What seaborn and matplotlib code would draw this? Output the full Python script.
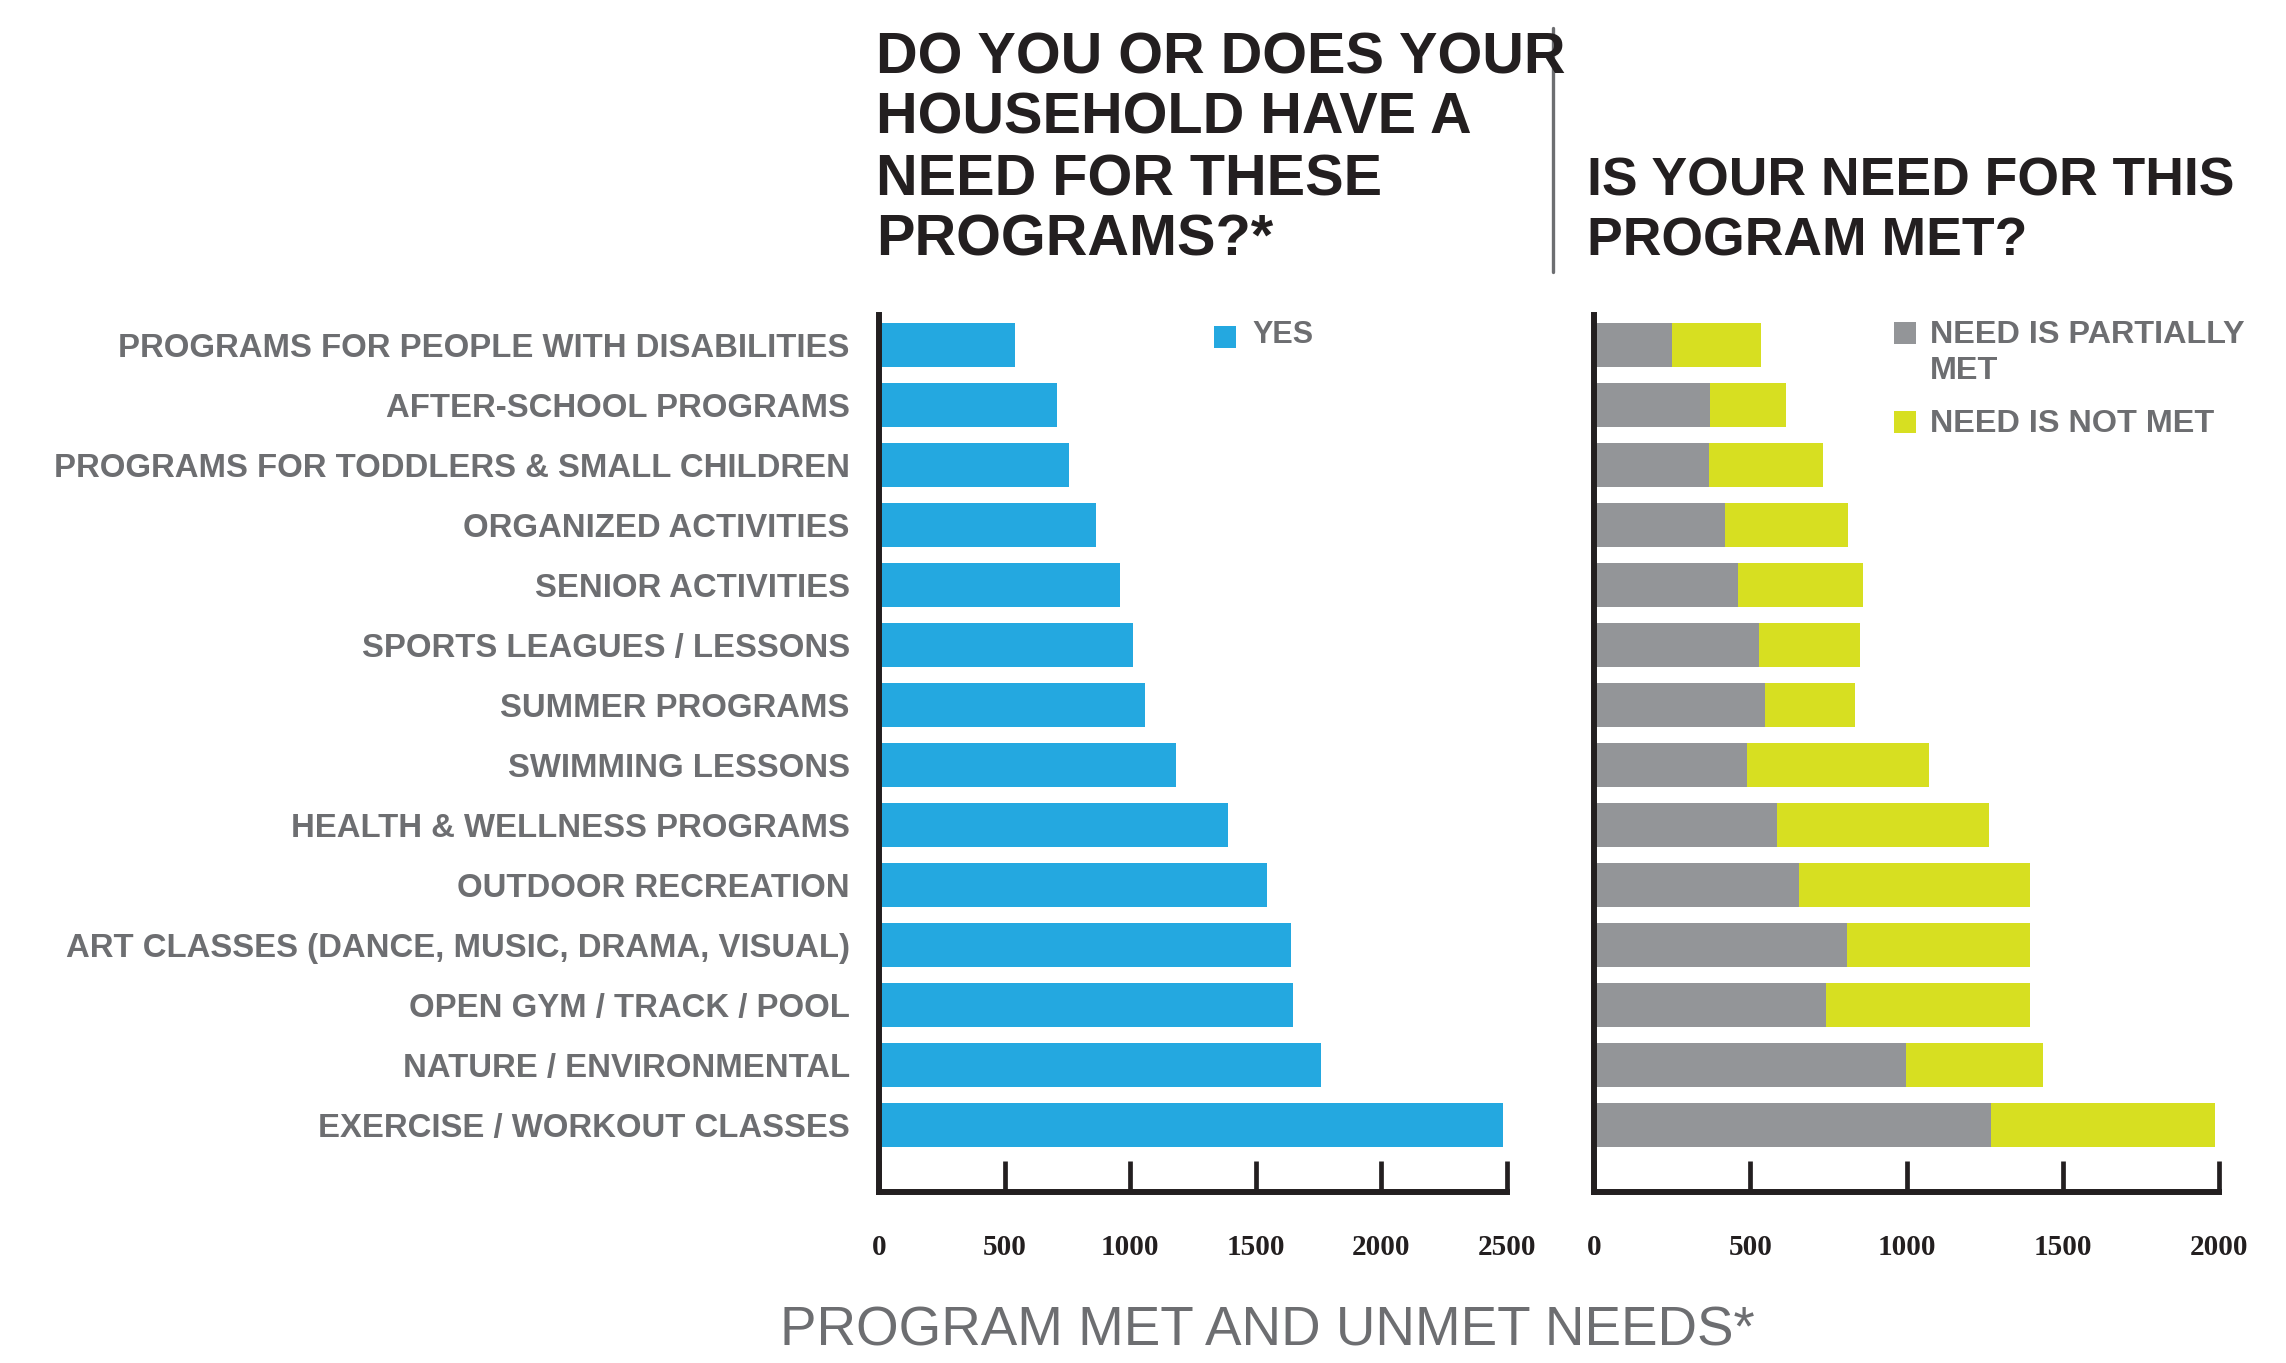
import matplotlib
matplotlib.use("Agg")
import matplotlib.pyplot as plt
from matplotlib import font_manager
from matplotlib.patches import Rectangle
from matplotlib.lines import Line2D
import seaborn as sns
import pandas as pd

# ---------------- data ----------------
categories = [
    "PROGRAMS FOR PEOPLE WITH DISABILITIES",
    "AFTER-SCHOOL PROGRAMS",
    "PROGRAMS FOR TODDLERS & SMALL CHILDREN",
    "ORGANIZED ACTIVITIES",
    "SENIOR ACTIVITIES",
    "SPORTS LEAGUES / LESSONS",
    "SUMMER PROGRAMS",
    "SWIMMING LESSONS",
    "HEALTH & WELLNESS PROGRAMS",
    "OUTDOOR RECREATION",
    "ART CLASSES (DANCE, MUSIC, DRAMA, VISUAL)",
    "OPEN GYM / TRACK / POOL",
    "NATURE / ENVIRONMENTAL",
    "EXERCISE / WORKOUT CLASSES",
]
yes_counts = [541, 708, 757, 865, 960, 1013, 1060, 1181, 1388, 1543, 1639, 1648, 1758, 2486]
partially_met = [251, 372, 369, 420, 461, 529, 548, 491, 584, 656, 810, 743, 997, 1269]
not_met = [284, 243, 364, 392, 399, 322, 287, 580, 679, 740, 586, 653, 441, 718]
left_ticks = [0, 500, 1000, 1500, 2000, 2500]
right_ticks = [0, 500, 1000, 1500, 2000]

title_left = ["DO YOU OR DOES YOUR", "HOUSEHOLD HAVE A", "NEED FOR THESE", "PROGRAMS?*"]
title_right = ["IS YOUR NEED FOR THIS", "PROGRAM MET?"]
legend_left = "YES"
legend_right = ["NEED IS PARTIALLY", "MET", "NEED IS NOT MET"]
bottom_title = "PROGRAM MET AND UNMET NEEDS*"

# ---------------- style ----------------
BLUE = "#24a8e0"
GRAY_BAR = "#939598"
YELLOW = "#d7df21"
GRAY_TEXT = "#6d6e71"
DARK = "#231f20"

sns.set_theme(style="white")
plt.rcParams["font.family"] = ["Liberation Sans", "DejaVu Sans"]


def has_font(name):
    try:
        font_manager.findfont(font_manager.FontProperties(family=name),
                              fallback_to_default=False)
        return True
    except Exception:
        return False


if has_font("Liberation Sans Narrow"):
    LABEL_FAMILY = ["Liberation Sans Narrow", "DejaVu Sans"]
    LABEL_SIZE = 28.5
else:
    LABEL_FAMILY = ["Liberation Sans", "DejaVu Sans"]
    LABEL_SIZE = 23.7
SANS = ["Liberation Sans", "DejaVu Sans"]
SERIF = ["Liberation Serif", "DejaVu Serif"]

W, H, DPI = 2286, 1363, 100
fig = plt.figure(figsize=(W / DPI, H / DPI), dpi=DPI)
fig.patch.set_facecolor("white")


def fx(px):
    return px / W


def fy(py):
    return 1 - py / H


AX_TOP, AX_BOT = 315, 1192
ax1 = fig.add_axes([fx(879), fy(AX_BOT), (1507 - 879) / W, (AX_BOT - AX_TOP) / H])
ax2 = fig.add_axes([fx(1594), fy(AX_BOT), (2219 - 1594) / W, (AX_BOT - AX_TOP) / H])

df = pd.DataFrame({
    "category": categories,
    "yes": yes_counts,
    "partial": partially_met,
    "not_met": not_met,
})
df["total"] = df["partial"] + df["not_met"]

BAR_W = 0.73
sns.barplot(data=df, y="category", x="yes", color=BLUE, saturation=1,
            width=BAR_W, errorbar=None, linewidth=0, ax=ax1)
sns.barplot(data=df, y="category", x="total", color=YELLOW, saturation=1,
            width=BAR_W, errorbar=None, linewidth=0, ax=ax2)
sns.barplot(data=df, y="category", x="partial", color=GRAY_BAR, saturation=1,
            width=BAR_W, errorbar=None, linewidth=0, ax=ax2)

for ax, ticks in ((ax1, left_ticks), (ax2, right_ticks)):
    ax.set_xlim(ticks[0], ticks[-1])
    ax.set_ylim(14.117, -0.5)
    ax.set_xlabel("")
    ax.set_ylabel("")
    ax.set_facecolor("none")
    for s in ("top", "right"):
        ax.spines[s].set_visible(False)
    for s in ("left", "bottom"):
        ax.spines[s].set_linewidth(4.3)
        ax.spines[s].set_color(DARK)
        ax.spines[s].set_capstyle("projecting")
        ax.spines[s].set_zorder(5)
    ax.set_xticks(ticks)
    ax.set_xticklabels([str(t) for t in ticks])
    ax.tick_params(axis="x", direction="in", length=22.3, width=3.4, color=DARK,
                   pad=30, labelsize=21, labelcolor=DARK, bottom=True)
    for lab in ax.get_xticklabels():
        lab.set_fontfamily(SERIF)
        lab.set_fontweight("bold")

ax1.tick_params(axis="y", length=0, pad=21)
for lab in ax1.get_yticklabels():
    lab.set_fontfamily(LABEL_FAMILY)
    lab.set_fontweight("bold")
    lab.set_fontsize(LABEL_SIZE)
    lab.set_color(GRAY_TEXT)
ax2.tick_params(axis="y", length=0, labelleft=False)

# ---------------- titles ----------------
for line, base in zip(title_left, [73, 133, 195, 255]):
    fig.text(fx(876), fy(base), line, ha="left", va="baseline", fontsize=41.5,
             fontweight="bold", family=SANS, color=DARK)
for line, base in zip(title_right, [195, 255]):
    fig.text(fx(1587), fy(base), line, ha="left", va="baseline", fontsize=38.5,
             fontweight="bold", family=SANS, color=DARK)

fig.add_artist(Line2D([fx(1553), fx(1553)], [fy(28), fy(272)], color=GRAY_TEXT,
                      lw=2.4, transform=fig.transFigure))

# ---------------- legends ----------------
SQ = 22
fig.add_artist(Rectangle((fx(1214), fy(348)), SQ / W, SQ / H, color=BLUE,
                         transform=fig.transFigure, lw=0))
fig.text(fx(1252), fy(343), legend_left, ha="left", va="baseline", fontsize=22,
         fontweight="bold", family=SANS, color=GRAY_TEXT)

fig.add_artist(Rectangle((fx(1894), fy(344)), SQ / W, SQ / H, color=GRAY_BAR,
                         transform=fig.transFigure, lw=0))
fig.add_artist(Rectangle((fx(1894), fy(433)), SQ / W, SQ / H, color=YELLOW,
                         transform=fig.transFigure, lw=0))
for txt, base in zip(legend_right, [343, 379, 432]):
    fig.text(fx(1930), fy(base), txt, ha="left", va="baseline", fontsize=23.3,
             fontweight="bold", family=SANS, color=GRAY_TEXT)

# ---------------- bottom title ----------------
fig.text(fx(1267), fy(1346), bottom_title, ha="center", va="baseline",
         fontsize=39.4, family=SANS, color=GRAY_TEXT)

fig.savefig("out.png", dpi=DPI, facecolor="white")
